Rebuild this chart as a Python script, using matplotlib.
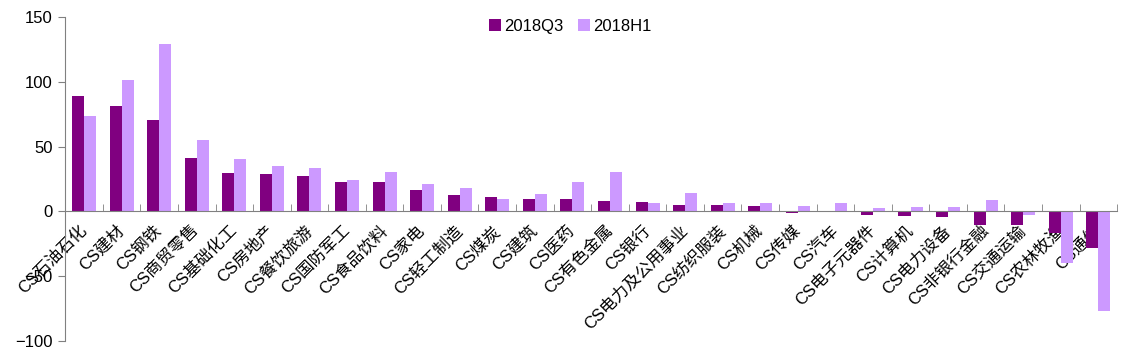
import numpy as np
import matplotlib
matplotlib.use("Agg")
import matplotlib.pyplot as plt
from matplotlib.ticker import FixedLocator

plt.rcParams['font.family'] = ['Liberation Sans', 'Noto Sans CJK SC', 'DejaVu Sans']

# Data
categories = ["CS石油石化", "CS建材", "CS钢铁", "CS商贸零售", "CS基础化工", "CS房地产",
              "CS餐饮旅游", "CS国防军工", "CS食品饮料", "CS家电", "CS轻工制造", "CS煤炭",
              "CS建筑", "CS医药", "CS有色金属", "CS银行", "CS电力及公用事业", "CS纺织服装",
              "CS机械", "CS传媒", "CS汽车", "CS电子元器件", "CS计算机", "CS电力设备",
              "CS非银行金融", "CS交通运输", "CS农林牧渔", "CS通信"]
q3_2018 = [88.7, 81.2, 70.2, 40.9, 29.8, 28.8, 27.2, 22.9, 22.6, 16.2, 12.3, 10.8,
           9.8, 9.3, 7.9, 6.9, 4.9, 4.9, 4.1, -1.0, -0.8, -2.8, -3.3, -4.1,
           -10.6, -10.6, -17.0, -28.5]
h1_2018 = [73.5, 101.5, 129.0, 55.3, 40.1, 34.7, 33.2, 24.1, 30.3, 20.8, 18.0, 9.5,
           13.1, 22.6, 30.3, 6.4, 14.4, 6.2, 6.7, 4.1, 6.2, 2.3, 3.0, 3.2,
           8.5, -3.1, -40.0, -76.6]
series_names = ["2018Q3", "2018H1"]

c_q3 = "#800080"
c_h1 = "#CC99FF"

fig = plt.figure(figsize=(11.25, 3.54), dpi=100)
ax = fig.add_axes([0.058, 0.037, 0.935, 0.915])

x = np.arange(len(categories))
w = 0.32
ax.bar(x - w / 2, q3_2018, width=w, color=c_q3, label=series_names[0], zorder=2)
ax.bar(x + w / 2, h1_2018, width=w, color=c_h1, label=series_names[1], zorder=2)

ax.set_xlim(-0.5, len(categories) - 0.5)
ax.set_ylim(-100, 150)
ax.set_yticks([-100, -50, 0, 50, 100, 150])

# spines
for s in ["top", "right"]:
    ax.spines[s].set_visible(False)
ax.spines["bottom"].set_position(("data", 0))
ax.spines["bottom"].set_color("#808080")
ax.spines["left"].set_color("#808080")
ax.spines["bottom"].set_zorder(3)

ax.tick_params(axis="y", direction="out", length=5, color="#808080", labelsize=12, pad=4)

# category labels at centers, tick marks at boundaries
ax.set_xticks(x)
ax.set_xticklabels(categories, rotation=45, ha="right", va="center",
                   rotation_mode="anchor", fontsize=12)
ax.tick_params(axis="x", which="major", length=0, pad=12)
ax.xaxis.set_minor_locator(FixedLocator(np.arange(-0.5, len(categories), 1.0)))
ax.tick_params(axis="x", which="minor", direction="in", length=5, color="#808080")

ax.legend(loc="upper center", bbox_to_anchor=(0.48, 1.04), ncol=2, frameon=False,
          fontsize=12, handlelength=0.7, handleheight=0.7, handletextpad=0.2,
          columnspacing=0.9)

fig.savefig("out.png", dpi=100)
